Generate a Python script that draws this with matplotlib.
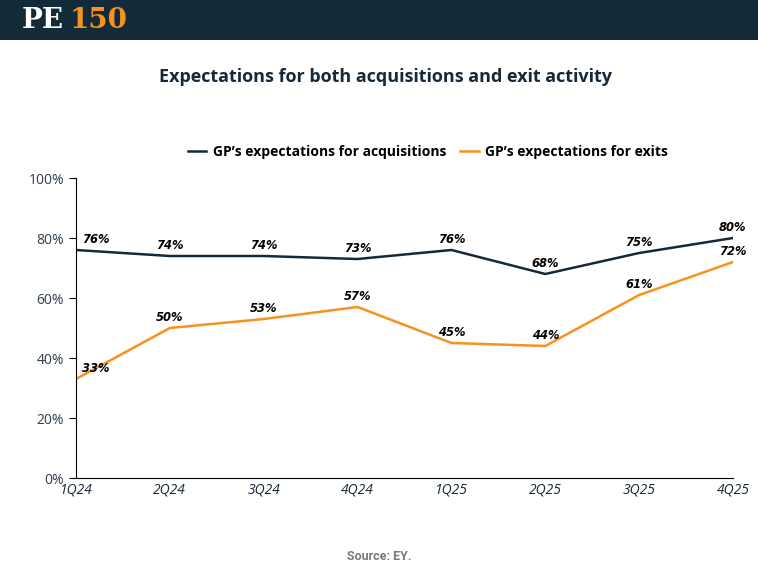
import matplotlib.pyplot as plt
from matplotlib.patches import Rectangle

# data
quarters = ['1Q24', '2Q24', '3Q24', '4Q24', '1Q25', '2Q25', '3Q25', '4Q25']
acquisitions = [76, 74, 74, 73, 76, 68, 75, 80]
exits = [33, 50, 53, 57, 45, 44, 61, 72]

navy = '#15293a'
orange = '#f7921e'
header_bg = '#132a38'

plt.rcParams['font.family'] = ['Open Sans', 'DejaVu Sans']

fig = plt.figure(figsize=(7.58, 5.67), dpi=100)
fig.patch.set_facecolor('white')

# header band
fig.patches.append(Rectangle((0, 1 - 40 / 567), 1, 40 / 567, transform=fig.transFigure,
                             facecolor=header_bg, edgecolor='none', zorder=0))
fig.text(22 / 758, 1 - 21 / 567, 'PE', color='white', fontsize=20, fontweight='bold',
         family='DejaVu Serif', va='center', ha='left')
fig.text(70 / 758, 1 - 21 / 567, '150', color=orange, fontsize=20, fontweight='bold',
         family='DejaVu Serif', va='center', ha='left')

fig.text(0.509, 1 - 77 / 567, 'Expectations for both acquisitions and exit activity',
         ha='center', va='center', fontsize=13, fontweight='bold', color=navy)

ax = fig.add_axes([76 / 758, 89 / 567, 657 / 758, 300 / 567])
x = list(range(len(quarters)))
ax.plot(x, acquisitions, color=navy, lw=1.8, label="GP’s expectations for acquisitions")
ax.plot(x, exits, color=orange, lw=1.8, label="GP’s expectations for exits")

for i, (a, e) in enumerate(zip(acquisitions, exits)):
    dx = 0.06 if i == 0 else 0
    ha = 'left' if i == 0 else 'center'
    for v in (a, e):
        ax.annotate(f'{v}%', (i + dx, v), xytext=(0, 3), textcoords='offset points',
                    ha=ha, va='bottom', fontsize=8.3, fontweight='bold', style='italic',
                    color='black', family='DejaVu Sans')

ax.set_xlim(0, len(quarters) - 1)
ax.set_ylim(0, 100)
ax.set_yticks([0, 20, 40, 60, 80, 100])
ax.set_yticklabels([f'{v}%' for v in [0, 20, 40, 60, 80, 100]])
ax.set_xticks(x)
ax.set_xticklabels(quarters, style='italic')
ax.tick_params(axis='y', colors='#2e3e4e', labelsize=10, length=5, width=0.8)
ax.tick_params(axis='x', colors=navy, labelsize=10, length=0, pad=3)
ax.tick_params(axis='y', color='black')
for s in ['top', 'right']:
    ax.spines[s].set_visible(False)
ax.spines['left'].set_color('black')
ax.spines['bottom'].set_color('black')

leg = fig.legend(loc='center', bbox_to_anchor=(0.565, 1 - 152 / 567), ncol=2, frameon=False,
                 fontsize=10, handlelength=1.3, handletextpad=0.5, columnspacing=1.0)
for t in leg.get_texts():
    t.set_fontweight('bold')
    t.set_color('black')

fig.text(0.5, 1 - 557 / 567, 'Source: EY.', ha='center', va='center', fontsize=9,
         fontweight='bold', color='#7a7a7a', family='Roboto')

fig.savefig('out.png', dpi=100)
